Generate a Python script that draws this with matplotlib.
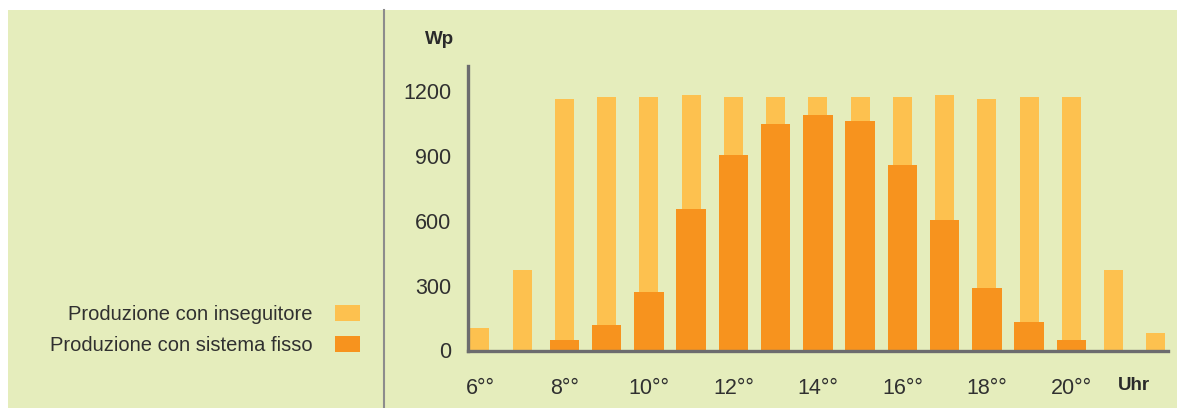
import matplotlib
matplotlib.use("Agg")
import matplotlib.pyplot as plt
from matplotlib.patches import Rectangle
from matplotlib.lines import Line2D

hours = list(range(6, 23))
tracker = [105, 372, 1165, 1174, 1174, 1182, 1174, 1174, 1174, 1174, 1174, 1182, 1165, 1174, 1174, 372, 82]
fixed = [0, 0, 48, 118, 269, 653, 903, 1047, 1090, 1063, 858, 604, 288, 133, 48, 0, 0]
tick_hours = [6, 8, 10, 12, 14, 16, 18, 20]
tick_labels = ["6°°", "8°°", "10°°", "12°°", "14°°", "16°°", "18°°", "20°°"]
y_ticks = [0, 300, 600, 900, 1200]
labels = ["Produzione con inseguitore", "Produzione con sistema fisso"]

BG = "#E5EDBC"
LIGHT = "#FDC14F"
DARK = "#F7931E"
AXC = "#6C6C6E"
TXT = "#303030"
FONT = ["Liberation Sans", "DejaVu Sans"]
BOLDFONT = ["Liberation Sans", "DejaVu Sans"]

W, H = 1177, 408
fig = plt.figure(figsize=(W / 100, H / 100), dpi=100)
fig.patch.set_facecolor("white")
fig.patches.append(Rectangle((8 / W, 0), 1 - 8 / W, 1 - 10 / H, transform=fig.transFigure,
                             facecolor=BG, edgecolor="none", zorder=-5))
fig.lines.append(Line2D([384 / W, 384 / W], [0, 1 - 10 / H], transform=fig.transFigure,
                        color="#8C8C8C", lw=1.5, zorder=-4))

ax = fig.add_axes([468 / W, (H - 350.5) / H, 700 / W, (350.5 - 66) / H])
ax.set_zorder(2)
ax.set_facecolor("none")
b1 = ax.bar(hours, tracker, width=0.45, color=LIGHT, zorder=2, label=labels[0])
b2 = ax.bar(hours, fixed, width=0.70, color=DARK, zorder=3, label=labels[1])
ax.set_xlim(5.716, 22.29)
ax.set_ylim(0, 1316)
for s in ["top", "right"]:
    ax.spines[s].set_visible(False)
for s in ["left", "bottom"]:
    ax.spines[s].set_color(AXC)
    ax.spines[s].set_linewidth(2.4)
    ax.spines[s].set_zorder(5)
ax.set_yticks(y_ticks)
ax.set_yticklabels([str(v) for v in y_ticks], family=FONT, fontsize=15.5, color=TXT)
ax.set_xticks(tick_hours)
ax.set_xticklabels(tick_labels, family=FONT, fontsize=15.5, color=TXT)
ax.tick_params(axis="y", length=0, pad=12)
ax.tick_params(axis="x", length=0, pad=20)

fig.text(440 / W, 1 - 39 / H, "Wp", family=BOLDFONT, fontweight="bold", fontsize=13.5,
         color="#2a2a2a", ha="center", va="center")
fig.text(1134 / W, 1 - 386 / H, "Uhr", family=BOLDFONT, fontweight="bold", fontsize=13.5,
         color="#2a2a2a", ha="center", va="center")

leg = fig.legend(handles=[b1, b2], labels=labels, loc="center right",
                 bbox_to_anchor=(359.5 / W, 1 - 330 / H), frameon=False, markerfirst=False,
                 borderpad=0, borderaxespad=0, handlelength=1.2, handleheight=0.8,
                 handletextpad=1.15, labelspacing=0.6,
                 prop={"family": FONT, "size": 14.5})
for t in leg.get_texts():
    t.set_color(TXT)

fig.savefig("out.png", dpi=100, facecolor=fig.get_facecolor())
